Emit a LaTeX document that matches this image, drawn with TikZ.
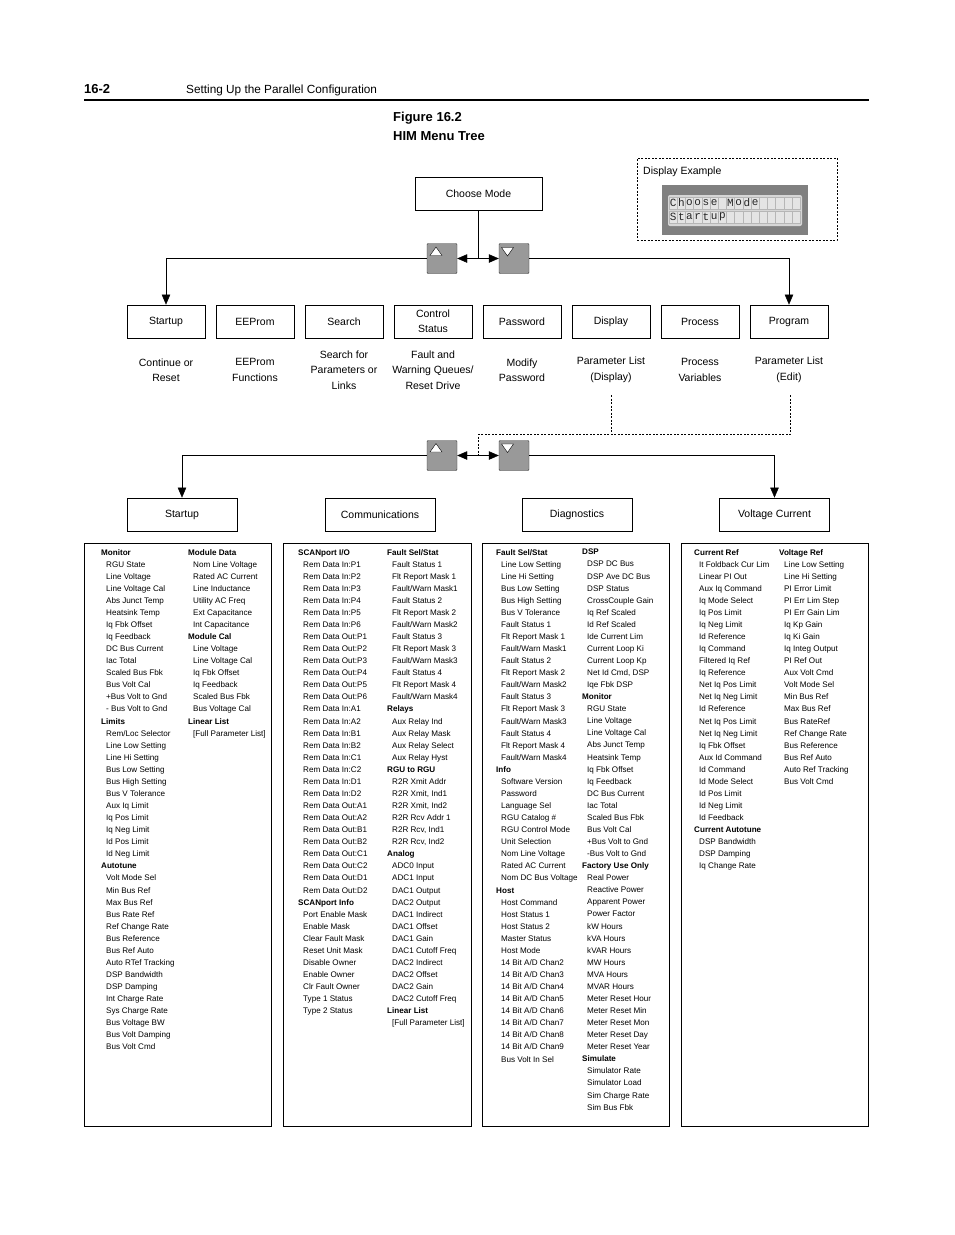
\documentclass[tikz,border=0pt]{standalone}
\usepackage{fontspec}
\setmainfont{Liberation Sans}
\setmonofont{Liberation Mono}
\usetikzlibrary{arrows.meta}

\definecolor{btngray}{RGB}{153,153,153}
\definecolor{lcdframe}{RGB}{128,128,128}
\definecolor{lcdglass}{RGB}{214,214,214}
\definecolor{lcdcell}{RGB}{228,228,228}

\newcommand{\hd}[1]{\hspace*{-5pt}\textbf{#1}}

\tikzset{
  menubox/.style={draw, line width=0.8pt, minimum width=78pt, minimum height=33pt,
    inner sep=0pt, align=center, font=\fontsize{10.5}{15}\selectfont},
  widebox/.style={menubox, minimum width=110pt},
  desc/.style={align=center, inner sep=0pt, font=\fontsize{10.5}{15.5}\selectfont},
  btn/.style={draw=black!80, fill=btngray, minimum width=30pt, minimum height=30pt,
    inner sep=0pt, rounded corners=1pt},
  listframe/.style={draw, line width=1pt, inner sep=0pt},
  listcol/.style={anchor=north west, align=left, inner sep=0pt,
    font=\fontsize{8.1}{12.07}\selectfont},
  lcdchar/.style={inner sep=0pt, font=\ttfamily\fontsize{11}{11}\selectfont, text=black!85},
  menuarrow/.style={-{Triangle[length=10pt,width=8.5pt]}},
  dashline/.style={line width=0.6pt, dash pattern=on 2pt off 1.5pt},
}

\begin{document}
\begin{tikzpicture}[x=1pt, y=-1pt]
    \useasboundingbox (0,0) rectangle (954,1235);

    % page head
    \node[anchor=base west, inner sep=0pt, font=\bfseries\fontsize{13}{15}\selectfont] (pagenum) at (84,93) {16-2};
    \node[anchor=base west, inner sep=0pt, font=\fontsize{11.8}{14}\selectfont] (pagehead) at (186,93) {Setting Up the Parallel Configuration};
    \draw[line width=2pt] (84,100) -- (869,100);
    \node[anchor=base west, inner sep=0pt, font=\bfseries\fontsize{13}{15}\selectfont] (fignum) at (393,121.5) {Figure 16.2};
    \node[anchor=base west, inner sep=0pt, font=\bfseries\fontsize{13}{15}\selectfont] (figtitle) at (393,140.5) {HIM Menu Tree};

    % display example
    \node[draw, dashline, minimum width=200pt, minimum height=82pt, inner sep=0pt] (dispex) at (737,199) {};
    \node[anchor=west, inner sep=0pt, font=\fontsize{10.5}{12}\selectfont] (dispextxt) at (643,172) {Display Example};
    \node[fill=lcdframe, minimum width=146pt, minimum height=50pt, inner sep=0pt] (lcd) at (735,210) {};
    \node[fill=lcdglass, rounded corners=2pt, minimum width=134pt, minimum height=31pt, inner sep=0pt] (glass) at (735,210.5) {};
    \foreach \r in {0,1}
      \foreach \c in {0,...,15}
        \draw[fill=lcdcell, draw=lcdglass!85!black, line width=0.3pt] (669+\c*8.2,197+\r*14) rectangle ++(8.2,12);
    \foreach \ch [count=\i from 0] in {C,h,o,o,s,e,{},M,o,d,e}
      \node[lcdchar] (lcdA\i) at (673.1+\i*8.2,203) {\ch};
    \foreach \ch [count=\i from 0] in {S,t,a,r,t,u,p}
      \node[lcdchar] (lcdB\i) at (673.1+\i*8.2,217) {\ch};

    % first level
    \node[menubox, minimum width=127pt] (choose) at (478.5,193.5) {Choose Mode};
    \node[btn] (up1) at (442,258.5) {};
    \node[btn] (down1) at (514,258.5) {};
    \draw[fill=white] (430,255.5) -- (442,255.5) -- (436,247) -- cycle;
    \draw[fill=white] (501.5,247.5) -- (513.5,247.5) -- (507.5,256) -- cycle;

    \node[menubox] (startup) at (166,321.5) {Startup};
    \node[menubox] (eeprom) at (255,321.5) {EEProm};
    \node[menubox] (search) at (344,321.5) {Search};
    \node[menubox] (ctrlstat) at (433,321.5) {Control\\Status};
    \node[menubox] (password) at (522,321.5) {Password};
    \node[menubox] (display) at (611,321.5) {Display};
    \node[menubox] (process) at (700,321.5) {Process};
    \node[menubox] (program) at (789,321.5) {Program};

    \node[desc] (startupdesc) at (166,370) {Continue or\\Reset};
    \node[desc] (eepromdesc) at (255,370) {EEProm\\Functions};
    \node[desc] (searchdesc) at (344,370) {Search for\\Parameters or\\Links};
    \node[desc] (ctrlstatdesc) at (433,370) {Fault and\\Warning Queues/\\Reset Drive};
    \node[desc] (passworddesc) at (522,370) {Modify\\Password};
    \node[desc] (displaydesc) at (611,370) {Parameter List\\(Display)};
    \node[desc] (processdesc) at (700,370) {Process\\Variables};
    \node[desc] (programdesc) at (789,370) {Parameter List\\(Edit)};

    \coordinate (split1) at (478.5,258.5);
    \draw (choose) -- (split1);
    \draw[menuarrow] (split1) -- (up1);
    \draw[menuarrow] (split1) -- (down1);
    \draw[menuarrow] (up1) -| (startup);
    \draw[menuarrow] (down1) -| (program);

    % second level
    \coordinate (dispdrop) at (611.5,395);
    \coordinate (progdrop) at (790.5,395);
    \coordinate (dashjoin) at (478.5,434);
    \coordinate (split2) at (478.5,455.5);
    \draw[dashline] (progdrop) |- (dashjoin) -- (split2);
    \draw[dashline] (dispdrop) -- (dispdrop |- dashjoin);

    \node[btn] (up2) at (442,455.5) {};
    \node[btn] (down2) at (514,455.5) {};
    \draw[fill=white] (430,452) -- (442,452) -- (436,443.5) -- cycle;
    \draw[fill=white] (501.5,444) -- (513.5,444) -- (507.5,452.5) -- cycle;

    \node[widebox] (startup2) at (182,514.5) {Startup};
    \node[widebox] (comms) at (380,514.5) {Communications};
    \node[widebox] (diag) at (577,514.5) {Diagnostics};
    \node[widebox] (voltcur) at (774.5,514.5) {Voltage Current};

    \draw[menuarrow] (split2) -- (up2);
    \draw[menuarrow] (split2) -- (down2);
    \draw[menuarrow] (up2) -| (startup2);
    \draw[menuarrow] (down2) -| (voltcur);

    % parameter lists
    \node[listframe, minimum width=187pt, minimum height=583pt] (startuplist) at (177.5,834.5) {};
    \node[listframe, minimum width=188pt, minimum height=583pt] (commslist) at (377,834.5) {};
    \node[listframe, minimum width=187pt, minimum height=583pt] (diaglist) at (575.5,834.5) {};
    \node[listframe, minimum width=187pt, minimum height=583pt] (voltcurlist) at (774.5,834.5) {};

    \node[listcol] (startupA) at (106,549) {\hd{Monitor}\\RGU State\\Line Voltage\\Line Voltage Cal\\Abs Junct Temp\\Heatsink Temp\\Iq Fbk Offset\\Iq Feedback\\DC Bus Current\\Iac Total\\Scaled Bus Fbk\\Bus Volt Cal\\+Bus Volt to Gnd\\- Bus Volt to Gnd\\\hd{Limits}\\Rem/Loc Selector\\Line Low Setting\\Line Hi Setting\\Bus Low Setting\\Bus High Setting\\Bus V Tolerance\\Aux Iq Limit\\Iq Pos Limit\\Iq Neg Limit\\Id Pos Limit\\Id Neg Limit\\\hd{Autotune}\\Volt Mode Sel\\Min Bus Ref\\Max Bus Ref\\Bus Rate Ref\\Ref Change Rate\\Bus Reference\\Bus Ref Auto\\Auto RTef Tracking\\DSP Bandwidth\\DSP Damping\\Int Charge Rate\\Sys Charge Rate\\Bus Voltage BW\\Bus Volt Damping\\Bus Volt Cmd};
    \node[listcol] (startupB) at (193,549) {\hd{Module Data}\\Nom Line Voltage\\Rated AC Current\\Line Inductance\\Utility AC Freq\\Ext Capacitance\\Int Capacitance\\\hd{Module Cal}\\Line Voltage\\Line Voltage Cal\\Iq Fbk Offset\\Iq Feedback\\Scaled Bus Fbk\\Bus Voltage Cal\\\hd{Linear List}\\{[Full Parameter List]}};

    \node[listcol] (commsA) at (303,549) {\hd{SCANport I/O}\\Rem Data In:P1\\Rem Data In:P2\\Rem Data In:P3\\Rem Data In:P4\\Rem Data In:P5\\Rem Data In:P6\\Rem Data Out:P1\\Rem Data Out:P2\\Rem Data Out:P3\\Rem Data Out:P4\\Rem Data Out:P5\\Rem Data Out:P6\\Rem Data In:A1\\Rem Data In:A2\\Rem Data In:B1\\Rem Data In:B2\\Rem Data In:C1\\Rem Data In:C2\\Rem Data In:D1\\Rem Data In:D2\\Rem Data Out:A1\\Rem Data Out:A2\\Rem Data Out:B1\\Rem Data Out:B2\\Rem Data Out:C1\\Rem Data Out:C2\\Rem Data Out:D1\\Rem Data Out:D2\\\hd{SCANport Info}\\Port Enable Mask\\Enable Mask\\Clear Fault Mask\\Reset Unit Mask\\Disable Owner\\Enable Owner\\Clr Fault Owner\\Type 1 Status\\Type 2 Status};
    \node[listcol] (commsB) at (392,549) {\hd{Fault Sel/Stat}\\Fault Status 1\\Flt Report Mask 1\\Fault/Warn Mask1\\Fault Status 2\\Flt Report Mask 2\\Fault/Warn Mask2\\Fault Status 3\\Flt Report Mask 3\\Fault/Warn Mask3\\Fault Status 4\\Flt Report Mask 4\\Fault/Warn Mask4\\\hd{Relays}\\Aux Relay Ind\\Aux Relay Mask\\Aux Relay Select\\Aux Relay Hyst\\\hd{RGU to RGU}\\R2R Xmit Addr\\R2R Xmit, Ind1\\R2R Xmit, Ind2\\R2R Rcv Addr 1\\R2R Rcv, Ind1\\R2R Rcv, Ind2\\\hd{Analog}\\ADC0 Input\\ADC1 Input\\DAC1 Output\\DAC2 Output\\DAC1 Indirect\\DAC1 Offset\\DAC1 Gain\\DAC1 Cutoff Freq\\DAC2 Indirect\\DAC2 Offset\\DAC2 Gain\\DAC2 Cutoff Freq\\\hd{Linear List}\\{[Full Parameter List]}};

    \node[listcol] (diagA) at (501,549) {\hd{Fault Sel/Stat}\\Line Low Setting\\Line Hi Setting\\Bus Low Setting\\Bus High Setting\\Bus V Tolerance\\Fault Status 1\\Flt Report Mask 1\\Fault/Warn Mask1\\Fault Status 2\\Flt Report Mask 2\\Fault/Warn Mask2\\Fault Status 3\\Flt Report Mask 3\\Fault/Warn Mask3\\Fault Status 4\\Flt Report Mask 4\\Fault/Warn Mask4\\\hd{Info}\\Software Version\\Password\\Language Sel\\RGU Catalog \#\\RGU Control Mode\\Unit Selection\\Nom Line Voltage\\Rated AC Current\\Nom DC Bus Voltage\\\hd{Host}\\Host Command\\Host Status 1\\Host Status 2\\Master Status\\Host Mode\\14 Bit A/D Chan2\\14 Bit A/D Chan3\\14 Bit A/D Chan4\\14 Bit A/D Chan5\\14 Bit A/D Chan6\\14 Bit A/D Chan7\\14 Bit A/D Chan8\\14 Bit A/D Chan9\\Bus Volt In Sel};
    \node[listcol] (diagB) at (587,549) {\hd{DSP}\\DSP DC Bus\\DSP Ave DC Bus\\DSP Status\\CrossCouple Gain\\Iq Ref Scaled\\Id Ref Scaled\\Ide Current Lim\\Current Loop Ki\\Current Loop Kp\\Net Id Cmd, DSP\\Iqe Fbk DSP\\\hd{Monitor}\\RGU State\\Line Voltage\\Line Voltage Cal\\Abs Junct Temp\\Heatsink Temp\\Iq Fbk Offset\\Iq Feedback\\DC Bus Current\\Iac Total\\Scaled Bus Fbk\\Bus Volt Cal\\+Bus Volt to Gnd\\-Bus Volt to Gnd\\\hd{Factory Use Only}\\Real Power\\Reactive Power\\Apparent Power\\Power Factor\\kW Hours\\kVA Hours\\kVAR Hours\\MW Hours\\MVA Hours\\MVAR Hours\\Meter Reset Hour\\Meter Reset Min\\Meter Reset Mon\\Meter Reset Day\\Meter Reset Year\\\hd{Simulate}\\Simulator Rate\\Simulator Load\\Sim Charge Rate\\Sim Bus Fbk};

    \node[listcol] (voltcurA) at (699,549) {\hd{Current Ref}\\It Foldback Cur Lim\\Linear PI Out\\Aux Iq Command\\Iq Mode Select\\Iq Pos Limit\\Iq Neg Limit\\Id Reference\\Iq Command\\Filtered Iq Ref\\Iq Reference\\Net Iq Pos Limit\\Net Iq Neg Limit\\Id Reference\\Net Iq Pos Limit\\Net Iq Neg Limit\\Iq Fbk Offset\\Aux Id Command\\Id Command\\Id Mode Select\\Id Pos Limit\\Id Neg Limit\\Id Feedback\\\hd{Current Autotune}\\DSP Bandwidth\\DSP Damping\\Iq Change Rate};
    \node[listcol] (voltcurB) at (784,549) {\hd{Voltage Ref}\\Line Low Setting\\Line Hi Setting\\PI Error Limit\\PI Err Lim Step\\PI Err Gain Lim\\Iq Kp Gain\\Iq Ki Gain\\Iq Integ Output\\PI Ref Out\\Aux Volt Cmd\\Volt Mode Sel\\Min Bus Ref\\Max Bus Ref\\Bus RateRef\\Ref Change Rate\\Bus Reference\\Bus Ref Auto\\Auto Ref Tracking\\Bus Volt Cmd};
\end{tikzpicture}
\end{document}
